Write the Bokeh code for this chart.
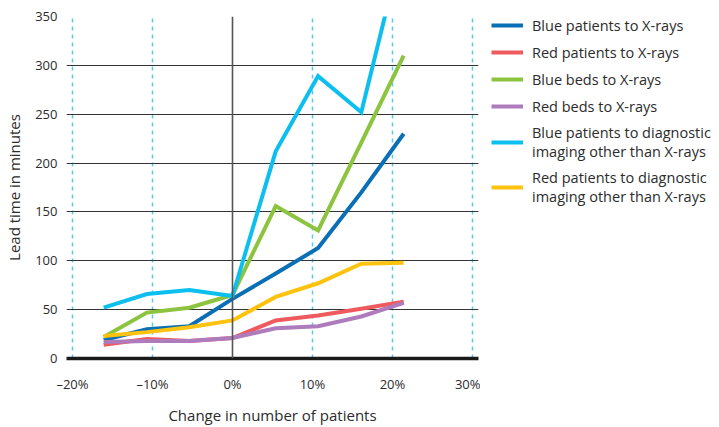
from bokeh.plotting import figure
from bokeh.layouts import row
from bokeh.models import Legend, LegendItem, FixedTicker, Span, Range1d
from bokeh.embed import file_html
from bokeh.resources import INLINE

# ---- data ----
change_pct = [-16.1, -10.7, -5.4, 0.0, 5.4, 10.7, 16.1, 21.4]

blue_patients_xray = [19, 30, 33, 61, 87, 113, 170, 230]
red_patients_xray = [14, 20, 18, 21, 39, 44, 51, 58]
blue_beds_xray = [22, 47, 52, 65, 156, 131, 221, 310]
red_beds_xray = [17, 18, 18, 21, 31, 33, 43, 57]
blue_patients_other = [52, 66, 70, 64, 212, 289, 252, 428]
red_patients_other = [23, 27, 32, 39, 63, 77, 97, 98]

series_names = [
    "Blue patients to X-rays",
    "Red patients to X-rays",
    "Blue beds to X-rays",
    "Red beds to X-rays",
    "Blue patients to diagnostic\nimaging other than X-rays",
    "Red patients to diagnostic\nimaging other than X-rays",
]
series_values = [blue_patients_xray, red_patients_xray, blue_beds_xray,
                 red_beds_xray, blue_patients_other, red_patients_other]
series_colors = ["#0a6fb5", "#ef5a5e", "#8cc43f", "#ae7bbd", "#0cbfee", "#ffc20f"]

x_ticks = [-20, -10, 0, 10, 20, 30]
x_tick_labels = ["\u201320%", "\u201310%", "0%", "10%", "20%", "30%"]
y_ticks = [0, 50, 100, 150, 200, 250, 300, 350]

FONT = "Open Sans"
TXT = "#2b2b2b"

p = figure(width=480, height=427, output_backend="svg", toolbar_location=None,
           x_range=Range1d(-20.75, 30.75), y_range=Range1d(0, 350),
           min_border_left=66, min_border_right=2, min_border_top=16,
           min_border_bottom=69)
p.outline_line_color = None
p.background_fill_color = "white"

# grids
p.xgrid.ticker = FixedTicker(ticks=[-20, -10, 10, 20, 30])
p.xgrid.grid_line_color = "#5cc6ef"
p.xgrid.grid_line_dash = "4 4"
p.xgrid.grid_line_width = 1.5
p.ygrid.ticker = FixedTicker(ticks=y_ticks[1:])
p.ygrid.grid_line_color = "#333333"
p.ygrid.grid_line_width = 1.2

p.add_layout(Span(location=0, dimension="height", line_color="#555555", line_width=1.6))

# axes
p.xaxis.ticker = FixedTicker(ticks=x_ticks)
p.xaxis.major_label_overrides = {t: l for t, l in zip(x_ticks, x_tick_labels)}
p.xaxis.axis_line_width = 3.5
p.xaxis.axis_line_color = "#1a1a1a"
p.xaxis.major_label_standoff = 16
p.xaxis.axis_label = "Change in number of patients"
p.xaxis.axis_label_standoff = 9

p.yaxis.ticker = FixedTicker(ticks=y_ticks)
p.yaxis.axis_line_color = None
p.yaxis.major_label_standoff = 9
p.yaxis.axis_label = "Lead time in minutes"
p.yaxis.axis_label_standoff = 8

for ax in (p.xaxis, p.yaxis):
    ax.major_tick_line_color = None
    ax.minor_tick_line_color = None
    ax.major_tick_out = 0
    ax.major_tick_in = 0
    ax.minor_tick_out = 0
    ax.minor_tick_in = 0
    ax.major_label_text_font = FONT
    ax.major_label_text_font_size = "13px"
    ax.major_label_text_color = TXT
    ax.axis_label_text_font = FONT
    ax.axis_label_text_font_size = "15px"
    ax.axis_label_text_font_style = "normal"
    ax.axis_label_text_color = TXT

for vals, col in zip(series_values, series_colors):
    p.line(change_pct, vals, line_color=col, line_width=4, line_join="miter")

# legend panel (separate canvas to the right of the plot)
lp = figure(width=239, height=427, output_backend="svg", toolbar_location=None,
            x_axis_type=None, y_axis_type=None, min_border=0,
            x_range=Range1d(0, 1), y_range=Range1d(0, 1))
lp.outline_line_color = None
lp.xgrid.visible = False
lp.ygrid.visible = False

items = []
for name, vals, col in zip(series_names, series_values, series_colors):
    r = lp.line(change_pct, vals, line_color=col, line_width=4, visible=False)
    items.append(LegendItem(label=name, renderers=[r]))

legend = Legend(items=items, location=(11, 152), glyph_width=32, glyph_height=20,
                label_standoff=9, spacing=7, padding=0, margin=0,
                border_line_color=None, background_fill_alpha=0,
                inactive_fill_alpha=0, click_policy="none",
                label_text_font=FONT, label_text_font_size="14.5px",
                label_text_line_height=1.5,
                label_text_color=TXT, label_height=20)
lp.add_layout(legend, "center")

open("out.html", "w").write(file_html(row(p, lp), INLINE))
